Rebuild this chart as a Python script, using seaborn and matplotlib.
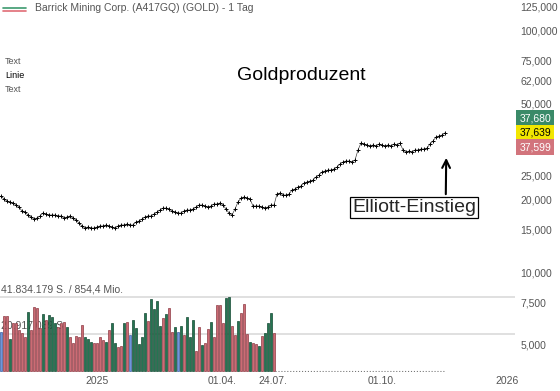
import numpy as np
import pandas as pd
import matplotlib
matplotlib.use('Agg')
import matplotlib.pyplot as plt
import seaborn as sns
from matplotlib.lines import Line2D
from matplotlib.ticker import NullLocator

# Daten
titel = 'Barrick Mining Corp. (A417GQ) (GOLD) - 1 Tag'

kurs = [20620, 20050, 19660, 19480, 19300, 18930, 18570, 17880, 17710, 17210,
        16890, 16570, 16730, 17050, 17540, 17370, 17210, 17210, 17210, 17050,
        17050, 16730, 16890, 17050, 16730, 16410, 15950, 15500, 15200, 15350,
        15200, 15200, 15350, 15500, 15500, 15650, 15500, 15350, 15200, 15500,
        15650, 15650, 15800, 15650, 15650, 16100, 16250, 16570, 16890, 17050,
        17050, 17370, 17710, 18050, 18390, 18390, 18220, 17880, 17710, 17540,
        17540, 17880, 18050, 18050, 18220, 18570, 18930, 18930, 18750, 18570,
        18750, 19110, 19110, 19300, 18930, 18220, 17540, 17210, 18220, 19480,
        20230, 20430, 20230, 20050, 18750, 18750, 18750, 18570, 18390, 18570,
        18930, 18930, 21020, 21220, 20820, 20820, 21020, 21830, 22040, 22470,
        22690, 23340, 23560, 23790, 24010, 24710, 25190, 25920, 26160, 26410,
        26410, 26670, 27180, 27970, 28500, 28780, 28780, 28500, 29050, 31960,
        34160, 33840, 33520, 33200, 33520, 33200, 33840, 33520, 33200, 33520,
        33200, 33840, 33520, 34160, 31960, 31350, 31650, 31350, 31960, 31960,
        32260, 32260, 32570, 33840, 34820, 36170, 36510, 36860, 37639]

# Volumen in Mio. Stueck
volumen = [22.2, 31.1, 31.1, 17.9, 27.3, 26.9, 23.2, 21.3, 19.0, 33.4,
           23.2, 36.0, 35.6, 24.1, 32.0, 28.8, 31.5, 30.3, 27.3, 25.1,
           27.3, 27.7, 25.1, 19.4, 15.6, 19.8, 19.4, 26.0, 19.0, 17.9,
           16.6, 15.6, 15.6, 19.4, 17.5, 16.6, 23.2, 26.9, 15.6, 13.7,
           14.1, 26.9, 27.7, 20.4, 28.8, 24.1,
           15.3, 19.0, 32.6, 28.4, 40.7, 34.9, 39.8, 25.4, 29.8, 32.0,
           35.6, 22.2, 25.1, 22.2, 25.4, 20.4, 30.3, 19.4, 28.8, 11.3,
           25.1, 14.7, 15.6, 23.6, 27.9, 19.0, 37.5, 37.5, 27.3, 41.3,
           41.834, 25.6, 20.4, 28.4, 32.6, 37.7, 20.7, 16.6, 15.6, 15.0,
           14.1, 19.7, 21.3, 27.3, 32.6, 21.3]
vol_farbe = list('brrgrrrrrgrrrrgrgggrrrgrrrrrgggrrrrgrggrrgrbgg'
                 'gggrggggrgrrgbgrgggrrgrrgrrrrggrrgrrrgrrgrgggr')

preis_ticks = [125000, 100000, 75000, 62000, 50000, 25000, 20000, 15000, 10000, 7500, 5000]
x_pos = [32, 73.7, 90.7, 127, 168.7]
x_labels = ['2025', '01.04.', '24.07.', '01.10.', '2026']
kurs_labels = [37680, 37639, 37599]

sns.set_style('white')
plt.rcParams['font.family'] = ['Liberation Sans', 'DejaVu Sans']

fig = plt.figure(figsize=(5.6, 3.91), dpi=100)
ax = fig.add_axes([0, 19 / 391, 515 / 560, 372 / 391])
ax2 = ax.twinx()

# Kurs
df = pd.DataFrame({'tag': np.arange(len(kurs)), 'kurs': kurs})
sns.lineplot(data=df, x='tag', y='kurs', ax=ax, color='#333333', lw=0.45,
             marker='+', markersize=3.2, markeredgewidth=0.7, markeredgecolor='black')
ax.set_yscale('log')
ax.set_ylim(3860, 133350)
ax.set_xlim(-1 / 3, 514 / 3)
ax.yaxis.tick_right()
ax.set_yticks(preis_ticks)
ax.set_yticklabels([f'{t:,}' for t in preis_ticks])
ax.yaxis.set_minor_locator(NullLocator())
ax.set_xticks(x_pos)
ax.set_xticklabels(x_labels)
ax.tick_params(axis='y', length=0, pad=4, labelsize=7.5, labelcolor='#555555')
ax.tick_params(axis='x', length=0, pad=3, labelsize=7.5, labelcolor='#555555')
ax.set_xlabel('')
ax.set_ylabel('')
for s in ax.spines.values():
    s.set_visible(False)

# Volumen
fuell = {'r': '#cc6b74', 'g': '#257552', 'b': '#6f95dd'}
rand = {'r': '#8e3b44', 'g': '#154a33', 'b': '#3d5f9f'}
vmax = max(volumen)
ax2.axhline(vmax, color='#dddddd', lw=1.3, zorder=0)
ax2.axhline(vmax / 2, color='#dddddd', lw=1.3, zorder=0)
ax2.bar(np.arange(len(volumen)), volumen, width=0.68,
        color=[fuell[c] for c in vol_farbe], edgecolor=[rand[c] for c in vol_farbe],
        linewidth=0.5, zorder=2)
ax2.hlines(0, len(volumen) - 0.5, len(kurs) - 1, colors='#777777', linestyles=':', lw=0.8)
ax2.set_ylim(-0.5653, 209.7)
ax2.set_yticks([])
for s in ax2.spines.values():
    s.set_visible(False)
ax2.text(0.002, vmax + 1.5, '41.834.179 S. / 854,4 Mio.', transform=ax2.get_yaxis_transform(),
         ha='left', va='bottom', fontsize=7.5, color='#555555', zorder=1)
ax2.text(0.002, vmax / 2 + 1.5, '20.917.089 S.', transform=ax2.get_yaxis_transform(),
         ha='left', va='bottom', fontsize=7.5, color='#555555', zorder=1)

# Kurs-Labels rechts
stil = [(10.4, '#3a8a68', 'white'), (0, '#f2e600', 'black'), (-10.4, '#d2747c', 'white')]
for wert, (off, bg, fg) in zip(kurs_labels, stil):
    ax.annotate(f'{wert:,}', xy=(1, kurs[-1]), xycoords=ax.get_yaxis_transform(),
                xytext=(3, off), textcoords='offset points', ha='left', va='center',
                fontsize=7.5, color=fg, annotation_clip=False,
                bbox=dict(boxstyle='square,pad=0.3', fc=bg, ec='none'))

# Elliott-Einstieg
ax.annotate('Elliott-Einstieg', xy=(len(kurs) - 0.5, kurs[-1]), xytext=(-23.4, -54),
            textcoords='offset points', ha='center', va='center', fontsize=14,
            bbox=dict(boxstyle='square,pad=0.1', fc='white', ec='black', lw=0.9),
            arrowprops=dict(arrowstyle='->', color='black', lw=1.5, shrinkB=18,
                            relpos=(0.756, 1.0), mutation_scale=14))

# Texte oben
fig.add_artist(Line2D([3 / 560, 26 / 560], [1 - 7.5 / 391] * 2, color='#3c9a6e', lw=1.2))
fig.add_artist(Line2D([3 / 560, 26 / 560], [1 - 10.5 / 391] * 2, color='#e06c75', lw=1.2))
fig.text(35 / 560, 1 - 8 / 391, titel, va='center', ha='left', fontsize=7.5, color='#555555')
fig.text(5 / 560, 1 - 61 / 391, 'Text', va='center', fontsize=6.5, color='#555555')
fig.text(5 / 560, 1 - 75 / 391, 'Linie', va='center', fontsize=6.5, color='black')
fig.text(5 / 560, 1 - 89 / 391, 'Text', va='center', fontsize=6.5, color='#555555')
fig.text(301 / 560, 1 - 75 / 391, 'Goldproduzent', ha='center', va='center', fontsize=14, color='black')

fig.savefig('out.png', dpi=100)
